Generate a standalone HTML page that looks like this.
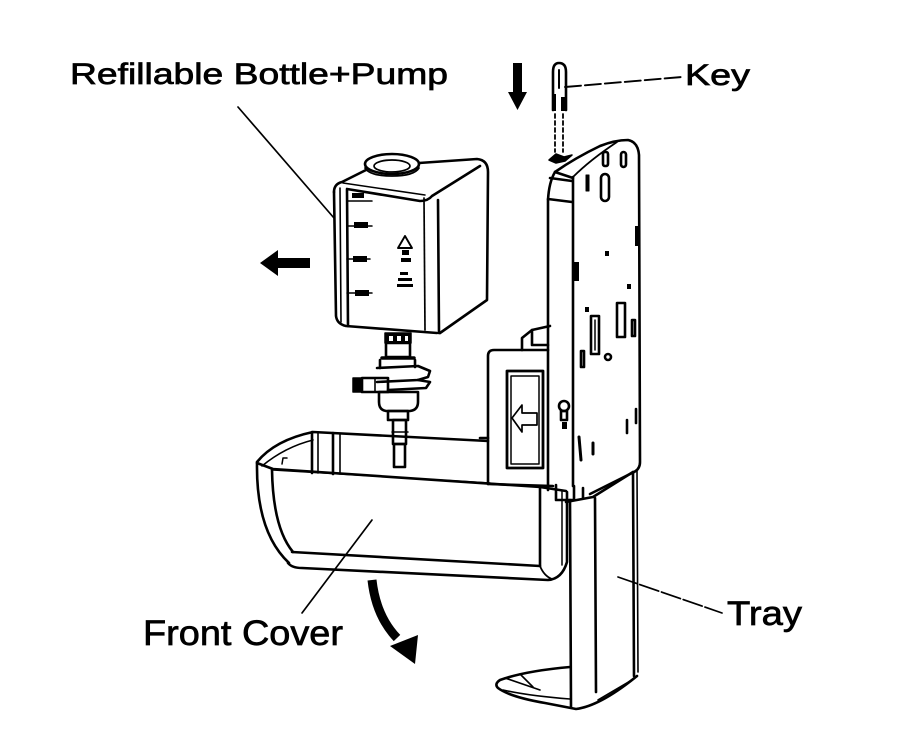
<!DOCTYPE html>
<html><head><meta charset="utf-8"><style>
html,body{margin:0;padding:0;background:#fff;width:900px;height:755px;overflow:hidden}
svg{display:block}
text{font-family:"Liberation Sans",Arial,sans-serif;fill:#000;stroke:#000;stroke-width:0.7}
</style></head><body>
<svg width="900" height="755" viewBox="0 0 900 755" xmlns="http://www.w3.org/2000/svg">
<rect width="900" height="755" fill="#fff"/>
<g fill="none" stroke="#000" stroke-width="2.6" stroke-linejoin="round" stroke-linecap="round">

<!-- Labels leaders -->
<line x1="238" y1="107" x2="334" y2="218" stroke-width="1.7"/>
<line x1="372" y1="520" x2="302" y2="613" stroke-width="1.7"/>
<line x1="618" y1="577" x2="722" y2="613" stroke-width="1.7" stroke-dasharray="20,3"/>
<path d="M565,87 L682,77" stroke-width="1.9" stroke-dasharray="16,4"/>

<!-- Arrows -->
<polygon points="513,63 522,63 522,92 527,92 517.5,110 508,92 513,92" fill="#000" stroke="none"/>
<polygon points="260,263 278,250 278,258 310,258 310,268 278,268 278,276" fill="#000" stroke="none"/>
<path d="M372,580 Q376,616 397,638" stroke-width="9" stroke-linecap="butt"/>
<polygon points="390,646 418,635 415,664" fill="#000" stroke="none"/>

<!-- Key -->
<path d="M553,110 L553,72 Q553,63 559,63 Q566,63 566,72 L566,110"/>
<line x1="559" y1="70" x2="559" y2="88" stroke-width="2"/>
<rect x="552" y="94" width="4" height="17" fill="#000" stroke="none"/>
<rect x="561" y="97" width="4" height="14" fill="#000" stroke="none"/>
<line x1="555" y1="114" x2="555" y2="152" stroke-dasharray="4,3" stroke-width="1.8"/>
<line x1="563" y1="114" x2="563" y2="152" stroke-dasharray="4,3" stroke-width="1.8"/>
<path d="M549,160 L556,154 L564,157 L572,155 L565,161 L556,163 Z" fill="#000" stroke-width="1.5"/>

<!-- Back plate -->
<path d="M548,490 L548,200 Q549,182 555,172 L573,178"/>
<path d="M555,172 Q575,158 600,146 Q615,140 628,140 Q638,142 639,155 L640,462 Q640,470 632,473 L590,494"/>
<line x1="573" y1="177" x2="573" y2="486"/>
<path d="M550,178 L572,181"/>
<path d="M548,199 L572,202"/>
<path d="M573,177 Q590,160 617,142" stroke-width="1.8"/>
<!-- holes -->
<rect x="603" y="152" width="5" height="14" rx="2"/>
<rect x="621" y="152" width="5" height="15" rx="2.5"/>
<rect x="586" y="175" width="3" height="16" fill="#000" stroke-width="1"/>
<rect x="601" y="174" width="8" height="27" rx="4"/>
<rect x="635" y="226" width="4" height="20" fill="#000" stroke="none"/>
<rect x="574" y="262" width="5" height="19" fill="#000" stroke="none"/>
<rect x="605" y="251" width="4" height="5" fill="#000" stroke="none"/>
<rect x="627" y="284" width="4" height="5" fill="#000" stroke="none"/>
<rect x="585" y="307" width="4" height="5" fill="#000" stroke="none"/>
<rect x="591" y="316" width="8" height="38"/>
<line x1="595" y1="320" x2="595" y2="350" stroke-width="1.5"/>
<rect x="617" y="303" width="8" height="34"/>
<rect x="632" y="320" width="3" height="16"/>
<rect x="581" y="351" width="3" height="16"/>
<circle cx="608" cy="357" r="3"/>
<circle cx="564" cy="406" r="5"/>
<rect x="561" y="411" width="6" height="9"/>
<rect x="562" y="422" width="5" height="7" fill="#000" stroke="none"/>
<line x1="627" y1="420" x2="627" y2="433"/>
<line x1="636" y1="409" x2="636" y2="423"/>
<line x1="579" y1="437" x2="581" y2="460" stroke-width="3"/>
<line x1="593" y1="443" x2="593" y2="454" stroke-width="3"/>
<path d="M556,485 L556,500 L574,500 L574,486"/>
<path d="M583,488 L583,498"/>

<!-- Sensor box -->
<path d="M488,484 L488,356 Q488,350 494,350 L522,350 L522,338 L532,330 L550,326"/>
<path d="M522,350 L548,350"/>
<path d="M532,330 L532,345 L548,345"/>
<line x1="488" y1="484" x2="553" y2="486"/>
<rect x="507" y="371" width="36" height="97" stroke-width="2.8"/>
<rect x="511" y="376" width="28" height="88" stroke-width="1.5"/>
<polygon points="512,418 522,405 522,413 537,413 537,425 522,425 522,432" stroke-width="1.7"/>
<line x1="480" y1="438" x2="488" y2="438"/>

<!-- Tray column -->
<line x1="570" y1="500" x2="571" y2="707"/>
<line x1="595" y1="498" x2="596" y2="692"/>
<path d="M633,472 L634,676"/>
<path d="M637,470 L638,672" stroke-width="1.6"/>
<path d="M566,502 L593,497 L633,472"/>
<path d="M570,667 Q525,671 500,680 Q494,684 498,688 Q510,697 545,703 L576,709 Q600,706 637,676"/>
<path d="M505,678 L540,690" stroke-width="1.6"/>
<path d="M520,674 L533,687" stroke-width="1.6"/>
<path d="M503,690 Q530,696 570,699" stroke-width="1.6"/>
<path d="M598,700 Q615,690 632,680" stroke-width="1.6"/>

<!-- Front cover -->
<path d="M257,462 Q275,440 313,432 L488,441"/>
<path d="M262,466 Q285,447 313,440" stroke-width="1.6"/>
<line x1="312" y1="432" x2="312" y2="473"/>
<line x1="318" y1="433" x2="318" y2="473" stroke-width="1.6"/>
<line x1="333" y1="433" x2="333" y2="474"/>
<line x1="340" y1="434" x2="340" y2="474" stroke-width="1.6"/>
<path d="M282,464 L283,458 L287,458" stroke-width="1.5"/>
<path d="M257,463 L273,469 L540,487 L566,491"/>
<path d="M273,470 L490,483" stroke-width="1.5"/>
<path d="M257,463 Q256,532 289,563"/>
<path d="M272,470 Q273,528 293,552"/>
<path d="M292,552 L540,566"/>
<path d="M288,563 Q292,568 302,568 L548,580 Q562,579 567,562 L567,492"/>
<line x1="540" y1="488" x2="540" y2="566"/>
<path d="M540,566 Q544,576 552,579" stroke-width="1.7"/>
<line x1="562" y1="491" x2="562" y2="565" stroke-width="1.5"/>

<!-- Bottle -->
<ellipse cx="392" cy="164" rx="27" ry="10"/>
<ellipse cx="392" cy="166" rx="18" ry="6" stroke-width="1.7"/>
<path d="M365,168 Q370,176 392,176 Q414,176 419,168" stroke-width="1.7"/>
<path d="M334,192 Q334,184 342,182 L366,170"/>
<path d="M419,163 L477,159 Q488,160 488,172 L487,300 L440,333"/>
<path d="M334,192 L336,316 Q337,324 346,326 L437,333"/>
<line x1="340" y1="188" x2="341" y2="322" stroke-width="1.6"/>
<line x1="347" y1="190" x2="348" y2="326"/>
<path d="M347,189 L420,201 Q428,201 432,196 L480,166"/>
<path d="M343,183 L425,195" stroke-width="1.5"/>
<line x1="424" y1="198" x2="425" y2="330" stroke-width="1.7"/>
<line x1="438" y1="200" x2="439" y2="333"/>
<rect x="352" y="193" width="12" height="5" fill="#000" stroke="none"/>
<line x1="347" y1="201" x2="372" y2="201" stroke-width="1.5"/>
<rect x="354" y="222" width="14" height="6" fill="#000" stroke="none"/>
<line x1="347" y1="226" x2="372" y2="226" stroke-width="1.5"/>
<rect x="353" y="256" width="14" height="6" fill="#000" stroke="none"/>
<line x1="347" y1="259" x2="370" y2="259" stroke-width="1.5"/>
<rect x="355" y="290" width="14" height="6" fill="#000" stroke="none"/>
<line x1="347" y1="293" x2="372" y2="293" stroke-width="1.5"/>
<polygon points="405,236 398,248 412,248" stroke-width="1.9"/>
<rect x="402" y="250" width="7" height="5" fill="#000" stroke="none"/>
<rect x="401" y="258" width="10" height="4" fill="#000" stroke="none"/>
<rect x="400" y="272" width="8" height="3" fill="#000" stroke="none"/>
<rect x="398" y="278" width="14" height="3" fill="#000" stroke="none"/>
<rect x="397" y="284" width="16" height="3" fill="#000" stroke="none"/>

<!-- Pump -->
<rect x="385" y="333" width="26" height="10" fill="#000" stroke-width="1.5"/>
<rect x="389" y="336" width="4" height="5" fill="#fff" stroke="none"/>
<rect x="397" y="336" width="4" height="5" fill="#fff" stroke="none"/>
<rect x="405" y="336" width="3" height="5" fill="#fff" stroke="none"/>
<rect x="386" y="343" width="24" height="14"/>
<line x1="382" y1="358" x2="414" y2="358" stroke-width="3.5"/>
<path d="M380,360 L380,368 M415,360 L415,367"/>
<path d="M377,368 L418,366 L430,371 L428,377 L418,380 L377,382"/>
<path d="M418,380 L430,382 L426,388 L388,390"/>
<rect x="353" y="378" width="9" height="14" fill="#000" stroke-width="1.5"/>
<rect x="362" y="378" width="26" height="14"/>
<line x1="375" y1="378" x2="375" y2="392" stroke-width="1.6"/>
<path d="M379,392 L418,392 L418,402 Q418,410 410,411 L386,411 Q379,410 379,402 Z"/>
<rect x="388" y="411" width="20" height="9"/>
<rect x="393" y="420" width="13" height="24"/>
<rect x="394" y="444" width="11" height="23"/>
<line x1="392" y1="432" x2="408" y2="432" stroke-width="1.5"/>
</g>

<text x="70" y="84" font-size="30" textLength="378" lengthAdjust="spacingAndGlyphs">Refillable Bottle+Pump</text>
<text x="685" y="85" font-size="30" textLength="65" lengthAdjust="spacingAndGlyphs">Key</text>
<text x="727" y="625" font-size="34" textLength="75" lengthAdjust="spacingAndGlyphs">Tray</text>
<text x="143" y="645" font-size="35" textLength="200" lengthAdjust="spacingAndGlyphs">Front Cover</text>
</svg>
</body></html>
